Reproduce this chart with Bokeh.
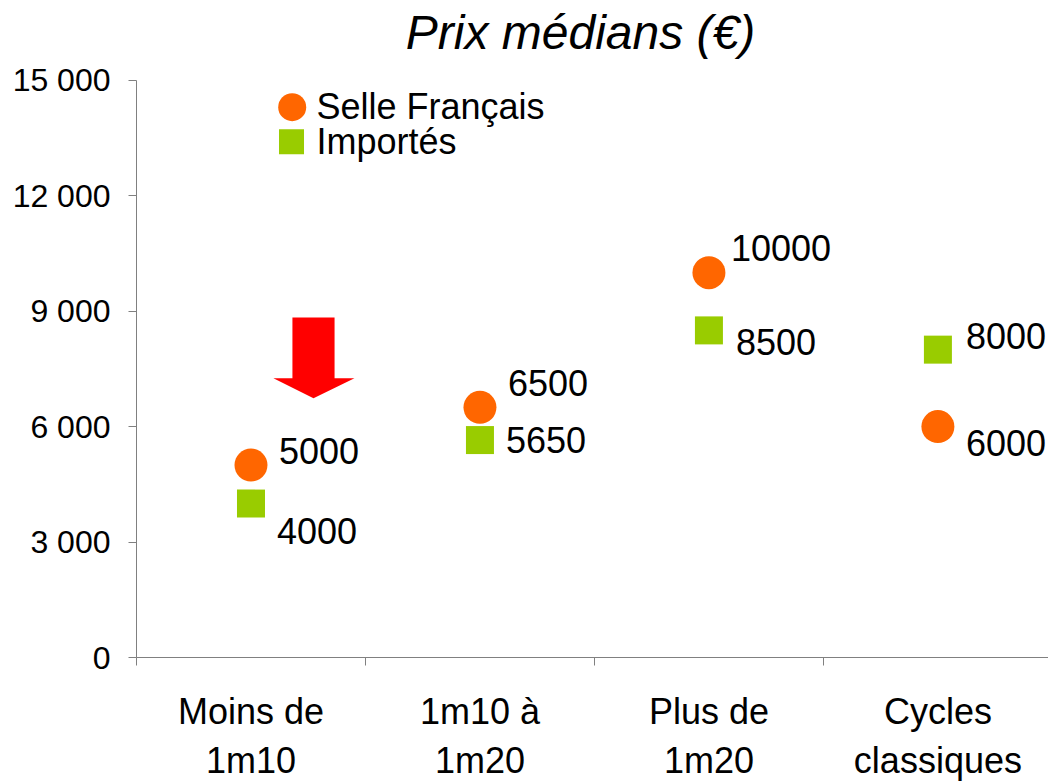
from bokeh.plotting import figure
from bokeh.models import Range1d, FixedTicker, ColumnDataSource, Label
from bokeh.embed import file_html
from bokeh.resources import INLINE
from bokeh.core.properties import value

# ---------------- data ----------------
categories = ["Moins de\n1m10", "1m10 à\n1m20", "Plus de\n1m20", "Cycles\nclassiques"]
selle_francais = [5000, 6500, 10000, 6000]
importes = [4000, 5650, 8500, 8000]
series_names = ["Selle Français", "Importés"]
y_ticks = [0, 3000, 6000, 9000, 12000, 15000]
y_tick_labels = ["0", "3 000", "6 000", "9 000", "12 000", "15 000"]
title_text = "Prix médians (€)"

# ---------------- styles ----------------
FONT = "Liberation Sans"
ORANGE = "#FF6600"
GREEN = "#99CC00"
AXIS = "#808080"
# label offsets (screen px) relative to each marker
sf_dx = [28, 28, 22, 28]
sf_dy = [-14, -24, -25, 16]
im_dx = [26, 26, 27, 28]
im_dy = [27, 0, 12, -14]

Y_MAX = 15000
PLOT_PX = 579      # height of the 0..15000 span in px
TOP_PX = 80        # room above 15000 for the title

xs = [i + 0.5 for i in range(len(categories))]

p = figure(width=1048, height=783, output_backend="svg", toolbar_location=None,
           x_range=Range1d(0, 3.983),
           y_range=Range1d(0, Y_MAX * (PLOT_PX + TOP_PX) / PLOT_PX),
           min_border_left=136, min_border_right=0, min_border_top=0,
           min_border_bottom=124, background_fill_color="white",
           border_fill_color="white", outline_line_color=None)

# title drawn inside the (extended) frame, above the 15000 line
p.add_layout(Label(x=444, y=PLOT_PX + TOP_PX - 34, x_units="screen", y_units="screen",
                   text=title_text, text_font=FONT, text_font_style="italic",
                   text_font_size="48px", text_color="black",
                   text_align="center", text_baseline="alphabetic"))

p.xgrid.visible = False
p.ygrid.visible = False

# y axis
ya = p.yaxis[0]
ya.ticker = FixedTicker(ticks=y_ticks, minor_ticks=[])
ya.bounds = (0, Y_MAX)
ya.major_label_overrides = {t: l for t, l in zip(y_ticks, y_tick_labels)}
ya.major_label_text_font = FONT
ya.major_label_text_font_size = "32px"
ya.major_label_text_color = "black"
ya.major_tick_out = 8
ya.major_tick_in = 0
ya.major_label_standoff = 18
ya.axis_line_color = AXIS
ya.major_tick_line_color = AXIS

# x axis: labels at centres, tick marks at boundaries
xa = p.xaxis[0]
xa.ticker = FixedTicker(ticks=xs, minor_ticks=list(range(len(categories) + 1)))
xa.major_label_overrides = {x: c for x, c in zip(xs, categories)}
xa.major_label_text_font = FONT
xa.major_label_text_font_size = "36px"
xa.major_label_text_color = "black"
xa.major_label_text_line_height = 1.2
xa.major_tick_line_color = None
xa.major_tick_out = 0
xa.major_tick_in = 0
xa.minor_tick_out = 8
xa.minor_tick_in = 0
xa.minor_tick_line_color = AXIS
xa.major_label_standoff = 25
xa.axis_line_color = AXIS

# markers
sf_src = ColumnDataSource(dict(x=xs, y=selle_francais, t=[str(v) for v in selle_francais],
                               dx=sf_dx, dy=sf_dy))
im_src = ColumnDataSource(dict(x=xs, y=importes, t=[str(v) for v in importes],
                               dx=im_dx, dy=im_dy))

p.scatter("x", "y", source=im_src, marker="square", size=28, color=GREEN, line_color=None)
p.scatter("x", "y", source=sf_src, marker="circle", size=33, color=ORANGE, line_color=None)

for src in (sf_src, im_src):
    p.text("x", "y", text="t", source=src, x_offset="dx", y_offset="dy",
           text_font=value(FONT), text_font_size="36px", text_color="black",
           text_align="left", text_baseline="middle")

# legend (manual, to keep the big markers)
p.scatter([0.68], [14300], marker="circle", size=28, color=ORANGE, line_color=None)
p.scatter([0.677], [13400], marker="square", size=25, color=GREEN, line_color=None)
p.text([0.786, 0.786], [14330, 13420], text=series_names,
       text_font=value(FONT), text_font_size="36px", text_color="black",
       text_align="left", text_baseline="middle")

# red arrow (decoration)
arrow_x = [0.681, 0.865, 0.865, 0.952, 0.773, 0.598, 0.681]
arrow_y = [8834, 8834, 7254, 7254, 6736, 7254, 7254]
p.patch(arrow_x, arrow_y, color="#FF0000", line_color=None)

open("out.html", "w").write(file_html(p, INLINE))
